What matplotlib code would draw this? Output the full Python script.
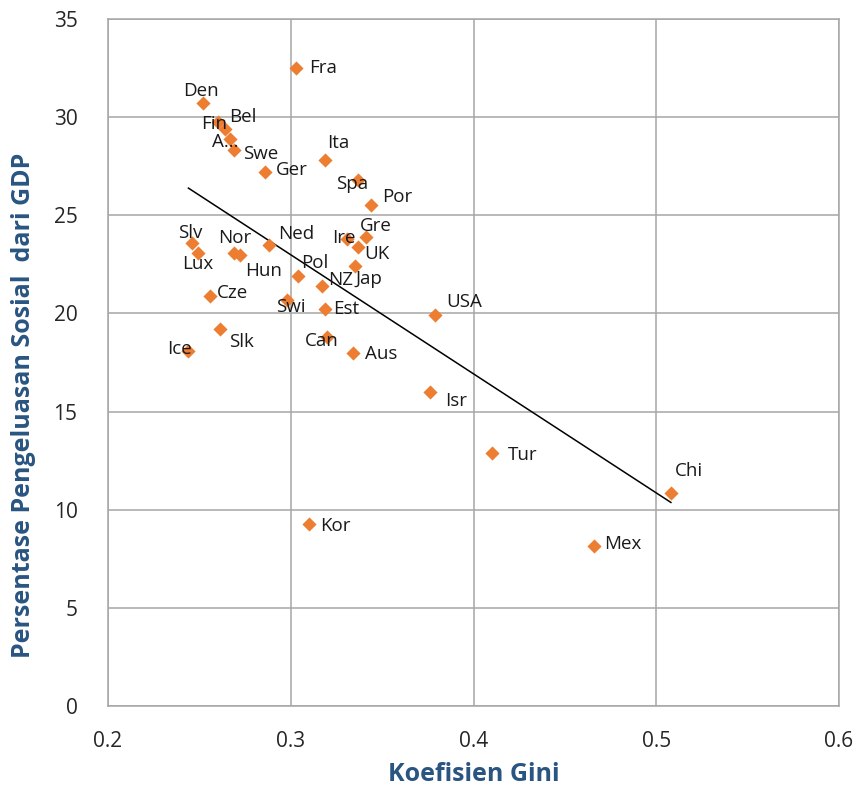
import matplotlib.pyplot as plt
import numpy as np

plt.rcParams['font.family'] = ['Open Sans', 'DejaVu Sans']

# Data
countries = ['Fra', 'Den', 'Fin', 'Bel', 'A...', 'Swe', 'Ger', 'Ita', 'Spa', 'Por',
             'Gre', 'Ire', 'UK', 'Jap', 'NZ', 'Pol', 'Ned', 'Nor', 'Hun', 'Slv',
             'Lux', 'Cze', 'Swi', 'Est', 'Can', 'Aus', 'Slk', 'Ice', 'USA', 'Isr',
             'Tur', 'Chi', 'Mex', 'Kor']
gini = [0.303, 0.252, 0.260, 0.264, 0.267, 0.269, 0.286, 0.319, 0.337, 0.344,
        0.341, 0.331, 0.337, 0.335, 0.317, 0.304, 0.288, 0.269, 0.272, 0.246,
        0.249, 0.256, 0.298, 0.319, 0.320, 0.334, 0.261, 0.244, 0.379, 0.376,
        0.410, 0.508, 0.466, 0.310]
social = [32.5, 30.7, 29.75, 29.4, 28.9, 28.35, 27.2, 27.8, 26.8, 25.5,
          23.9, 23.8, 23.4, 22.4, 21.4, 21.9, 23.5, 23.1, 23.0, 23.6,
          23.1, 20.9, 20.7, 20.2, 18.8, 18.0, 19.2, 18.1, 19.9, 16.0,
          12.9, 10.85, 8.15, 9.27]

# label offsets in pixels (dx, dy) from each marker, text left-aligned
offsets = {
    'Fra': (13, 0), 'Den': (-20, 12), 'Fin': (-17, -2), 'Bel': (4, 12),
    'A...': (-18, -3), 'Swe': (9, -4), 'Ger': (11, 2), 'Ita': (2, 17),
    'Spa': (-22, -4), 'Por': (11, 8), 'Gre': (-6, 11), 'Ire': (-15, 1),
    'UK': (6, -7), 'Jap': (1, -13), 'NZ': (6, 6), 'Pol': (3, 13),
    'Ned': (9, 11), 'Nor': (-16, 15), 'Hun': (6, -16), 'Slv': (-14, 10),
    'Lux': (-15, -11), 'Cze': (7, 3), 'Swi': (-11, -7), 'Est': (8, 0),
    'Can': (-22, -4), 'Aus': (12, -1), 'Slk': (10, -13), 'Ice': (-21, 2),
    'USA': (11, 13), 'Isr': (15, -9), 'Tur': (16, -2), 'Chi': (4, 22),
    'Mex': (10, 2), 'Kor': (11, -2),
}

fig = plt.figure(figsize=(8.58, 7.9), dpi=100)
ax = fig.add_axes([0.1259, 0.1063, 0.852, 0.8697])

ax.scatter(gini, social, marker='D', s=52, color='#ED7D31', zorder=3, linewidths=0)

# linear trendline over the data range
coef = np.polyfit(gini, social, 1)
xs = np.array([min(gini), max(gini)])
ax.plot(xs, np.polyval(coef, xs), color='black', lw=1.1, zorder=2)

for name, x, y in zip(countries, gini, social):
    dx, dy = offsets[name]
    ax.annotate(name, (x, y), xytext=(dx, dy), textcoords='offset pixels',
                ha='left', va='center', fontsize=13.5, color='#1a1a1a', zorder=4)

ax.set_xlim(0.2, 0.6)
ax.set_ylim(0, 35)
ax.set_xticks([0.2, 0.3, 0.4, 0.5, 0.6])
ax.set_xticklabels(['0.2', '0.3', '0.4', '0.5', '0.6'])
ax.set_yticks(range(0, 36, 5))
ax.grid(True, color='#A6A6A6', lw=1.1)
ax.set_axisbelow(True)
for sp in ax.spines.values():
    sp.set_color('#A6A6A6')
    sp.set_linewidth(1.1)
ax.tick_params(length=0, labelsize=15, colors='#262626')
ax.tick_params(axis='x', pad=18)
ax.tick_params(axis='y', pad=22)

ax.set_xlabel('Koefisien Gini', fontsize=18, fontweight='bold', color='#2A5581',
              va='center', ha='center')
ax.set_ylabel('Persentase Pengeluasan Sosial  dari GDP', fontsize=18, fontweight='bold',
              color='#2A5581', va='center', ha='center')
ax.xaxis.set_label_coords(0.5, -0.1)
ax.yaxis.set_label_coords(-0.116, 0.437)

fig.savefig('out.png', dpi=100)
